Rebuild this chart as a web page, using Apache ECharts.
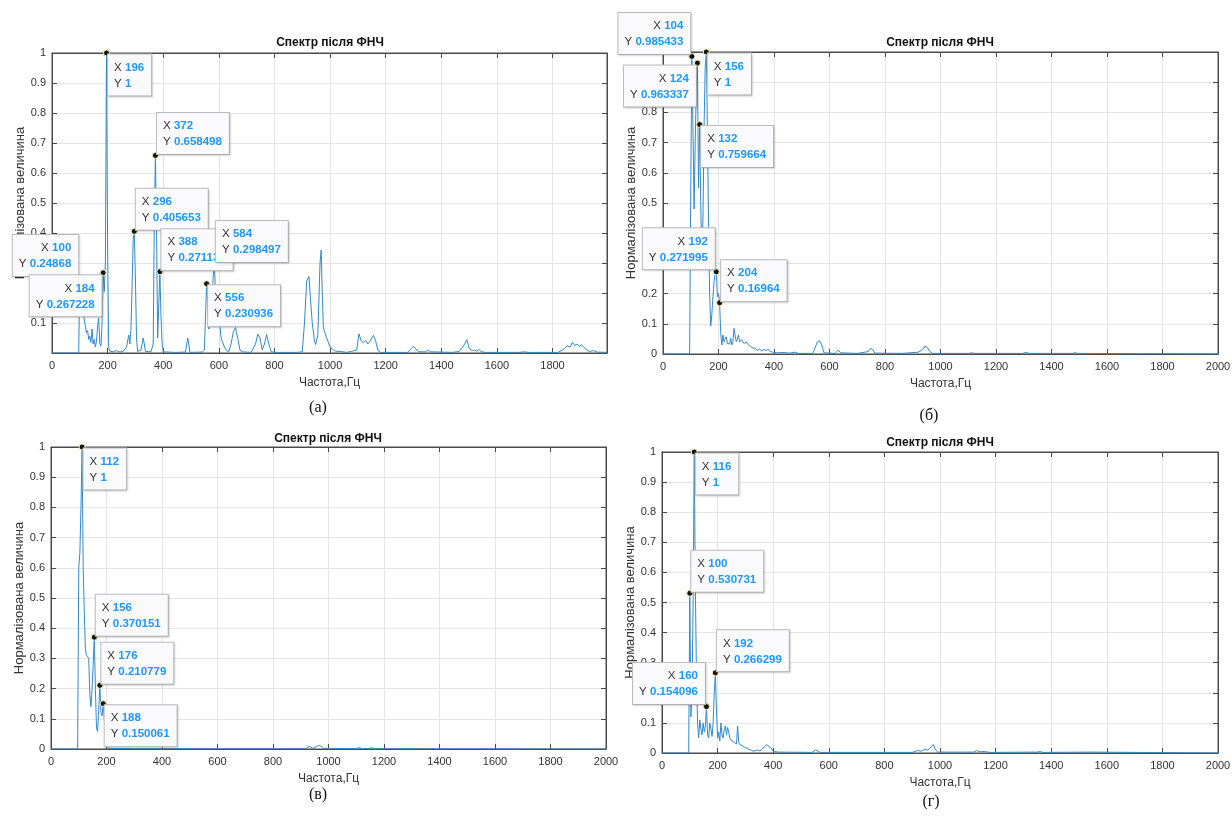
<!DOCTYPE html>
<html><head><meta charset="utf-8">
<script src="https://cdn.jsdelivr.net/npm/echarts@6/dist/echarts.min.js"></script>
<style>html,body{margin:0;padding:0;background:#fff}#c{width:1232px;height:818px}</style>
</head><body><div id="c"></div>
<script>
// ---------- texts ----------
const titleText = 'Спектр після ФНЧ';
const xName = 'Частота,Гц';
const yName = 'Нормалізована величина';
const captions = ['(а)', '(б)', '(в)', '(г)'];
const xTickStep = 200;
const yTickStep = 0.1;

// ---------- panel (а) ----------
const freqA = [0,96,100,104,108,112,116,120,124,128,132,136,140,144,148,152,156,160,164,168,172,176,180,184,188,192,196,200,204,208,220,232,244,256,268,276,280,284,288,292,296,300,304,308,320,328,332,336,356,364,368,372,376,380,384,388,392,396,400,440,480,488,492,496,540,548,552,556,560,564,568,572,576,580,584,588,592,596,600,604,608,612,620,628,636,644,652,660,668,676,684,716,732,740,748,756,764,772,780,788,800,880,900,908,916,924,928,936,944,948,956,964,968,972,976,980,984,992,1000,1012,1020,1040,1060,1080,1096,1104,1112,1120,1128,1136,1144,1156,1164,1172,1180,1280,1292,1300,1308,1320,1344,1352,1360,1440,1464,1476,1484,1492,1500,1512,1520,1528,1536,1544,1560,1680,1700,1712,1820,1844,1852,1864,1872,1880,1888,1896,1904,1912,1920,1932,1948,1960,1996];
const ampA  = [0,0,0.24868,0.13,0.125,0.14,0.11,0.09,0.067,0.075,0.045,0.056,0.035,0.08,0.03,0.045,0.02,0.04,0.09,0.116,0.03,0.023,0.1,0.267228,0.205,0.3,1,0.35,0.017,0.006,0.004,0.008,0.003,0.006,0.02,0.06,0.03,0.08,0.22,0.38,0.405653,0.25,0.05,0.005,0.01,0.05,0.03,0.005,0.004,0.03,0.45,0.658498,0.4,0.05,0.16,0.271132,0.12,0.03,0.004,0.002,0.003,0.05,0.03,0.002,0.003,0.01,0.12,0.230936,0.16,0.08,0.095,0.12,0.18,0.26,0.298497,0.2,0.13,0.1,0.115,0.09,0.05,0.04,0.02,0.008,0.005,0.03,0.07,0.085,0.05,0.01,0.004,0.002,0.03,0.063,0.05,0.01,0.03,0.061,0.03,0.005,0.002,0.002,0.004,0.1,0.24,0.255,0.2,0.1,0.04,0.028,0.06,0.3,0.343,0.2,0.084,0.09,0.06,0.04,0.02,0.01,0.006,0.005,0.002,0.006,0.01,0.064,0.04,0.034,0.042,0.03,0.04,0.059,0.04,0.01,0.002,0.002,0.015,0.022,0.014,0.004,0.004,0.01,0.004,0.002,0.005,0.018,0.03,0.045,0.015,0.008,0.01,0.006,0.012,0.004,0.002,0.002,0.004,0.002,0.002,0.015,0.024,0.02,0.036,0.025,0.03,0.022,0.028,0.02,0.012,0.005,0.008,0.003,0.002];
const tipFreqA = [100,184,196,296,372,388,584,556];
const tipAmpA  = [0.24868,0.267228,1,0.405653,0.658498,0.271132,0.298497,0.230936];

// ---------- panel (б) ----------
const freqB = [0,96,100,104,108,112,116,120,124,128,132,136,140,144,148,152,156,160,164,168,172,176,180,184,188,192,196,200,204,208,212,216,220,224,228,232,236,240,244,248,252,256,260,264,268,272,276,284,292,300,308,316,324,332,340,348,356,364,372,380,388,396,412,432,456,476,488,540,548,556,564,572,580,620,632,640,700,740,748,756,764,860,920,936,944,952,960,972,1100,1112,1124,1296,1308,1320,1476,1484,1496,2000];
const ampB  = [0,0,0.55,0.985433,0.75,0.48,0.7,0.88,0.963337,0.55,0.759664,0.5,0.3,0.45,0.75,0.95,1,0.75,0.45,0.2,0.093,0.13,0.19,0.24,0.265,0.271995,0.19,0.2,0.16964,0.07,0.03,0.063,0.04,0.05,0.057,0.035,0.04,0.033,0.052,0.03,0.04,0.085,0.06,0.041,0.05,0.063,0.04,0.047,0.035,0.04,0.03,0.025,0.02,0.019,0.012,0.016,0.01,0.015,0.012,0.016,0.008,0.006,0.004,0.005,0.003,0.006,0.002,0.002,0.02,0.04,0.044,0.03,0.004,0.002,0.013,0.004,0.002,0.008,0.019,0.014,0.003,0.002,0.006,0.015,0.026,0.022,0.01,0.002,0.002,0.004,0.002,0.002,0.005,0.002,0.002,0.004,0.002,0];
const tipFreqB = [104,124,156,132,192,204];
const tipAmpB  = [0.985433,0.963337,1,0.759664,0.271995,0.16964];

// ---------- panel (в) ----------
const freqC = [0,96,100,104,108,112,116,120,124,128,132,136,140,144,148,152,156,160,164,168,172,176,180,184,188,192,196,200,208,300,920,928,936,944,956,964,972,980,1100,1108,1116,1124,1148,1156,1164,2000];
const ampC  = [0,0,0.6,0.65,0.8,1,0.6,0.45,0.33,0.31,0.31,0.3,0.18,0.14,0.2,0.28,0.370151,0.2,0.07,0.058,0.13,0.210779,0.12,0.11,0.150061,0.1,0.03,0.01,0.002,0.001,0.001,0.009,0.006,0.002,0.008,0.012,0.01,0.002,0.001,0.005,0.003,0.001,0.002,0.005,0.001,0];
const tipFreqC = [112,156,176,188];
const tipAmpC  = [1,0.370151,0.210779,0.150061];

// ---------- panel (г) ----------
const freqD = [0,96,100,104,108,112,116,120,124,128,132,136,140,144,148,152,156,160,164,168,172,176,180,184,188,192,196,200,204,208,212,216,220,224,228,232,236,240,244,248,252,256,260,264,268,272,276,280,288,296,304,312,320,328,336,344,352,360,368,376,384,392,400,420,540,552,560,568,900,920,932,944,956,968,976,984,992,1120,1132,1144,1160,1180,1350,1360,1370,1550,2000];
const ampD  = [0,0,0.530731,0.12,0.2,0.5,1,0.55,0.25,0.1,0.05,0.11,0.08,0.06,0.1,0.07,0.09,0.154096,0.06,0.05,0.1,0.08,0.055,0.1,0.2,0.266299,0.14,0.05,0.07,0.04,0.1,0.06,0.05,0.08,0.09,0.06,0.085,0.07,0.05,0.045,0.04,0.045,0.035,0.04,0.03,0.09,0.035,0.028,0.025,0.02,0.017,0.012,0.01,0.006,0.008,0.01,0.007,0.012,0.02,0.028,0.022,0.017,0.005,0.003,0.002,0.01,0.007,0.002,0.002,0.008,0.006,0.012,0.01,0.02,0.028,0.01,0.003,0.003,0.008,0.004,0.005,0.002,0.003,0.005,0.002,0.003,0];
const tipFreqD = [116,100,192,160];
const tipAmpD  = [1,0.530731,0.266299,0.154096];

// ---------- layout / style (not data) ----------
const FONT = 'Liberation Sans, Arial, Helvetica, sans-serif';
const panels = [
  {left:52, top:53, width:555, height:300, xMax:1996, showY0:false, tx:330, ty:43, cx:318, cy:408,
   freq:freqA, amp:ampA, tf:tipFreqA, ta:tipAmpA, tp:['nw','sw','se','ne','ne','ne','ne','se']},
  {left:663, top:52, width:555, height:302, xMax:2000, showY0:true, tx:940, ty:43, cx:929, cy:416,
   freq:freqB, amp:ampB, tf:tipFreqB, ta:tipAmpB, tp:['nw','sw','se','se','nw','ne']},
  {left:51, top:447, width:555, height:302, xMax:2000, showY0:true, tx:328, ty:439, cx:318, cy:795,
   freq:freqC, amp:ampC, tf:tipFreqC, ta:tipAmpC, tp:['se','ne','ne','se']},
  {left:662, top:452, width:556, height:301, xMax:2000, showY0:true, tx:940, ty:443, cx:931, cy:802,
   freq:freqD, amp:ampD, tf:tipFreqD, ta:tipAmpD, tp:['se','ne','ne','nw']}
];
const place = {
  se:{position:[5,5], align:'left',  verticalAlign:'top'},
  ne:{position:[5,2], align:'left',  verticalAlign:'bottom'},
  nw:{position:[2,1], align:'right', verticalAlign:'bottom'},
  sw:{position:[2,6], align:'right', verticalAlign:'top'}
};
const AX = '#4a4a4a', TXT = '#333333', GRID = '#e6e6e6', LINE = '#3389ca';

const grid = [], xAxis = [], yAxis = [], series = [], graphic = [];
panels.forEach((p, i) => {
  grid.push({left:p.left, top:p.top, width:p.width, height:p.height, show:true, z:0,
    borderColor:AX, borderWidth:1, backgroundColor:'#fff', outerBoundsMode:'none', containLabel:false});
  const common = {gridIndex:i, type:'value', min:0, max:p.xMax, interval:xTickStep, z:1,
    axisLine:{show:true, onZero:false, lineStyle:{color:AX, width:1}},
    axisTick:{show:true, inside:true, length:5, lineStyle:{color:AX}}};
  xAxis.push(Object.assign({}, common, {position:'bottom',
    axisLabel:{color:TXT, fontSize:11, fontFamily:FONT, margin:7, showMaxLabel: p.xMax % xTickStep === 0,
      formatter: v => String(v)},
    splitLine:{show:true, lineStyle:{color:GRID, width:1}},
    name:xName, nameLocation:'middle', nameGap:24,
    nameTextStyle:{color:TXT, fontSize:12, fontFamily:FONT}}));
  xAxis.push(Object.assign({}, common, {position:'top', axisLabel:{show:false}, splitLine:{show:false}}));
  const ycommon = {gridIndex:i, type:'value', min:0, max:1, interval:yTickStep, z:1,
    axisLine:{show:true, onZero:false, lineStyle:{color:AX, width:1}},
    axisTick:{show:true, inside:true, length:5, lineStyle:{color:AX}}};
  yAxis.push(Object.assign({}, ycommon, {position:'left',
    axisLabel:{color:TXT, fontSize:11, fontFamily:FONT, margin:6, showMinLabel:p.showY0,
      formatter: v => String(Math.round(v * 10) / 10)},
    splitLine:{show:true, lineStyle:{color:GRID, width:1}},
    name:yName, nameLocation:'middle', nameGap:25,
    nameTextStyle:{color:TXT, fontSize:13, fontFamily:FONT}}));
  yAxis.push(Object.assign({}, ycommon, {position:'right', axisLabel:{show:false}, splitLine:{show:false}}));

  series.push({type:'line', xAxisIndex:2*i, yAxisIndex:2*i, showSymbol:false, symbol:'none',
    animation:false, z:3, lineStyle:{color:LINE, width:1},
    data:p.freq.map((f, k) => [f, p.amp[k]])});

  series.push({type:'scatter', xAxisIndex:2*i, yAxisIndex:2*i, animation:false, z:20,
    symbol:'circle', symbolSize:6,
    itemStyle:{color:'#111111', borderColor:'#f3eeb0', borderWidth:1, opacity:1},
    label:{show:true, backgroundColor:'#fafafc', borderColor:'#bdbdbd', borderWidth:1,
      padding:[5,7,4,6], lineHeight:16, fontFamily:FONT, opacity:1,
      shadowColor:'rgba(0,0,0,0.12)', shadowBlur:2, shadowOffsetX:1, shadowOffsetY:1,
      formatter: prm => '{k|X} {v|' + prm.value[0] + '}\n{k|Y} {v|' + prm.value[1] + '}',
      rich:{k:{color:'#333', fontSize:11.5, fontFamily:FONT, lineHeight:16},
            v:{color:'#1e98ff', fontSize:11.5, fontWeight:'bold', fontFamily:FONT, lineHeight:16}}},
    data:p.tf.map((f, k) => ({value:[f, p.ta[k]], label:Object.assign({}, place[p.tp[k]])}))});

  graphic.push({type:'text', x:p.tx, y:p.ty, z:10, style:{text:titleText, font:'bold 12px ' + FONT,
    fill:'#111', textAlign:'center', align:'center', textVerticalAlign:'middle', verticalAlign:'middle'}});
  graphic.push({type:'text', x:p.cx, y:p.cy, z:10, style:{text:captions[i], font:'16px Liberation Serif, Times New Roman, serif',
    fill:'#111', textAlign:'center', align:'center', textVerticalAlign:'middle', verticalAlign:'middle'}});
});

const chart = echarts.init(document.getElementById('c'), null, {renderer:'canvas', width:1232, height:818});
chart.setOption({animation:false, backgroundColor:'#ffffff', grid, xAxis, yAxis, series, graphic,
  textStyle:{fontFamily:FONT}});
</script>
</body></html>
